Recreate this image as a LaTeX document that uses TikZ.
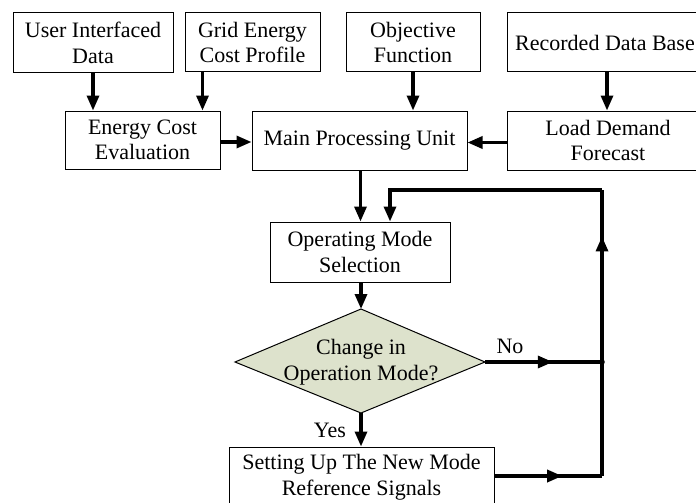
\documentclass[tikz,border=0pt]{standalone}
\usepackage{fontspec}
\setmainfont{Liberation Serif}
\usetikzlibrary{arrows.meta,decorations.markings,calc}
\definecolor{diafill}{RGB}{221,226,204}
\begin{document}
\begin{tikzpicture}[x=1pt,y=-1pt,
  every node/.style={font=\fontsize{22}{25.5}\selectfont},
  box/.style={draw,line width=1pt,fill=white,align=center,inner sep=0pt},
  diashape/.style={draw,line width=1pt,fill=diafill},
  arr/.style={line width=3.2pt,-{Triangle[length=15pt,width=12pt]}},
  ln/.style={line width=3.2pt},
  midarr/.style={ln,postaction={decorate},decoration={markings,mark=at position #1 with {\arrow{Triangle[length=15pt,width=12pt]}}}},
  lbl/.style={inner sep=0pt}
]
\path[use as bounding box,clip] (0,0) rectangle (696,503);
\fill[white] (0,0) rectangle (696,503);

\node[box,minimum width=160pt,minimum height=60pt] (uid) at (93,43) {User Interfaced\\Data};
\node[box,minimum width=135pt,minimum height=59pt] (gec) at (252.5,42.5) {Grid Energy\\Cost Profile};
\node[box,minimum width=134pt,minimum height=59pt] (obj) at (413,42.5) {Objective\\Function};
\node[box,minimum width=196pt,minimum height=59pt] (rdb) at (605,42.5) {Recorded Data Base};

\node[box,minimum width=155pt,minimum height=58pt] (ece) at (142.5,140) {Energy Cost\\Evaluation};
\node[box,minimum width=215pt,minimum height=59pt] (mpu) at (359.5,140.5) {Main Processing Unit};
\node[box,minimum width=202pt,minimum height=59pt] (ldf) at (608,140.5) {Load Demand\\Forecast};

\node[box,minimum width=180pt,minimum height=60pt] (oms) at (360,252) {Operating Mode\\Selection};

% decision diamond
\coordinate (chgN) at (361,309);
\coordinate (chgS) at (361,413);
\coordinate (chgW) at (235,362);
\coordinate (chgE) at (485,362);
\draw[diashape] (chgN) -- (chgE) -- (chgS) -- (chgW) -- cycle;
\node[align=center,inner sep=0pt] (chg) at (361,362) {Change in\\Operation Mode?};

\node[box,minimum width=265pt,minimum height=60pt] (sus) at (361.5,477) {Setting Up The New Mode\\Reference Signals};

\coordinate (J) at (602,362);
\coordinate (B) at (602,476);
\coordinate (T) at (602,190);

% top arrows
\draw[arr] (uid.south) -- (uid.south |- ece.north);
\draw[arr] ([xshift=-18pt]ece.north east |- gec.south) -- ([xshift=-18pt]ece.north east);
\draw[arr] (obj.south) -- (obj.south |- mpu.north);
\draw[arr] ([xshift=2pt]rdb.south) -- ([xshift=2pt]rdb.south |- ldf.north);
\draw[arr] ([yshift=-2pt]ece.east) -- ([yshift=-2pt]ece.east -| mpu.west);
\draw[arr] ([yshift=-2pt]ldf.west) -- ([yshift=-2pt]ldf.west -| mpu.east);
\draw[arr] ([xshift=1pt]mpu.south) -- ([xshift=1pt]mpu.south |- oms.north);
\draw[arr] ([xshift=1pt]oms.south) -- (chgN);
\draw[arr] (chgS) -- (chgS |- sus.north);

% loop
\draw[midarr=0.58] (chgE) -- (J);
\draw[midarr=0.63] (sus.east |- B) -- (B);
\draw[ln] (B) -- (J);
\draw[midarr=0.73] (J) -- (T);
\draw[ln] (J) -- (T);
\draw[arr] (T) -- ([xshift=30pt]oms.north |- T) -- ([xshift=30pt]oms.north);
\fill (J) circle (2.8pt);

\node[lbl] at (510,346) {No};
\node[lbl] at (330,430) {Yes};
\end{tikzpicture}
\end{document}
